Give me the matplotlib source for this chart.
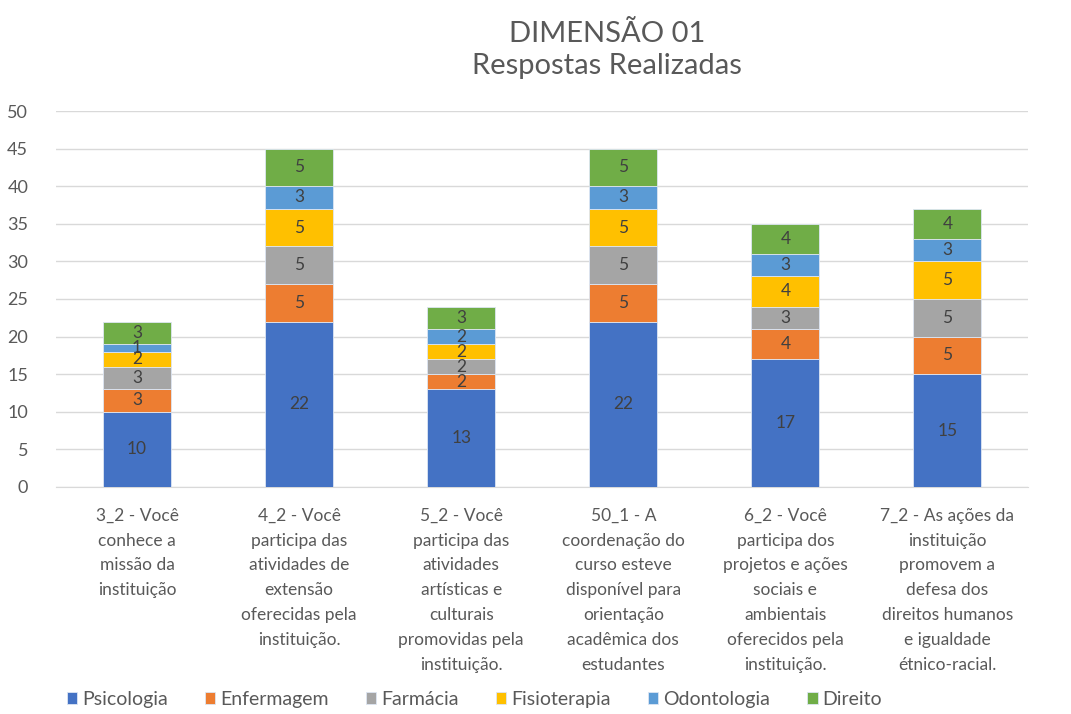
import matplotlib as mpl
import matplotlib.pyplot as plt
import numpy as np

mpl.rcParams['font.family'] = ['Lato', 'DejaVu Sans']

categories = [
    "3_2 - Você\nconhece a\nmissão da\ninstituição",
    "4_2 - Você\nparticipa das\natividades de\nextensão\noferecidas pela\ninstituição.",
    "5_2 - Você\nparticipa das\natividades\nartísticas e\nculturais\npromovidas pela\ninstituição.",
    "50_1 - A\ncoordenação do\ncurso esteve\ndisponível para\norientação\nacadêmica dos\nestudantes",
    "6_2 - Você\nparticipa dos\nprojetos e ações\nsociais e\nambientais\noferecidos pela\ninstituição.",
    "7_2 - As ações da\ninstituição\npromovem a\ndefesa dos\ndireitos humanos\ne igualdade\nétnico-racial.",
]
series_names = ["Psicologia", "Enfermagem", "Farmácia", "Fisioterapia", "Odontologia", "Direito"]
psicologia = [10, 22, 13, 22, 17, 15]
enfermagem = [3, 5, 2, 5, 4, 5]
farmacia = [3, 5, 2, 5, 3, 5]
fisioterapia = [2, 5, 2, 5, 4, 5]
odontologia = [1, 3, 2, 3, 3, 3]
direito = [3, 5, 3, 5, 4, 4]
colors = ["#4472C4", "#ED7D31", "#A5A5A5", "#FFC000", "#5B9BD5", "#70AD47"]

series = [psicologia, enfermagem, farmacia, fisioterapia, odontologia, direito]

fig = plt.figure(figsize=(10.71, 7.14), dpi=100)
ax = fig.add_axes([0.0523, 0.318, 0.908, 0.5265])

x = np.arange(len(categories))
bottom = np.zeros(len(categories))
for name, vals, col in zip(series_names, series, colors):
    vals = np.array(vals, dtype=float)
    ax.bar(x, vals, 0.42, bottom=bottom, color=col, label=name,
           edgecolor="#dde6f3", linewidth=0.6, zorder=3)
    # value labels in the middle of each segment
    for xi, b, v in zip(x, bottom, vals):
        ax.text(xi, b + v / 2, f"{int(v)}", ha="center", va="center",
                fontsize=12.5, color="#404040", zorder=4)
    bottom += vals

ax.set_xlim(-0.5, len(categories) - 0.5)
ax.set_ylim(0, 50)
ax.set_yticks(range(0, 51, 5))
ax.yaxis.grid(True, color="#D9D9D9", linewidth=1, zorder=0)
for s in ["top", "right", "left"]:
    ax.spines[s].set_visible(False)
ax.spines["bottom"].set_color("#D9D9D9")
ax.tick_params(axis="both", length=0, colors="#595959", labelsize=13)
ax.tick_params(axis="y", pad=20)
ax.set_xticks(x)
ax.set_xticklabels(categories, fontsize=12.5, color="#595959", linespacing=1.68)
ax.tick_params(axis="x", pad=15)

fig.text(0.567, 0.93, "DIMENSÃO 01\nRespostas Realizadas", ha="center", va="center",
         fontsize=21, color="#595959", linespacing=1.25)

fig.legend(loc="center", bbox_to_anchor=(0.443, 0.02), ncol=6, frameon=False,
           fontsize=14, handlelength=0.55, handleheight=0.55, handletextpad=0.25,
           columnspacing=1.9, labelcolor="#595959")

fig.savefig("out.png", dpi=100)
